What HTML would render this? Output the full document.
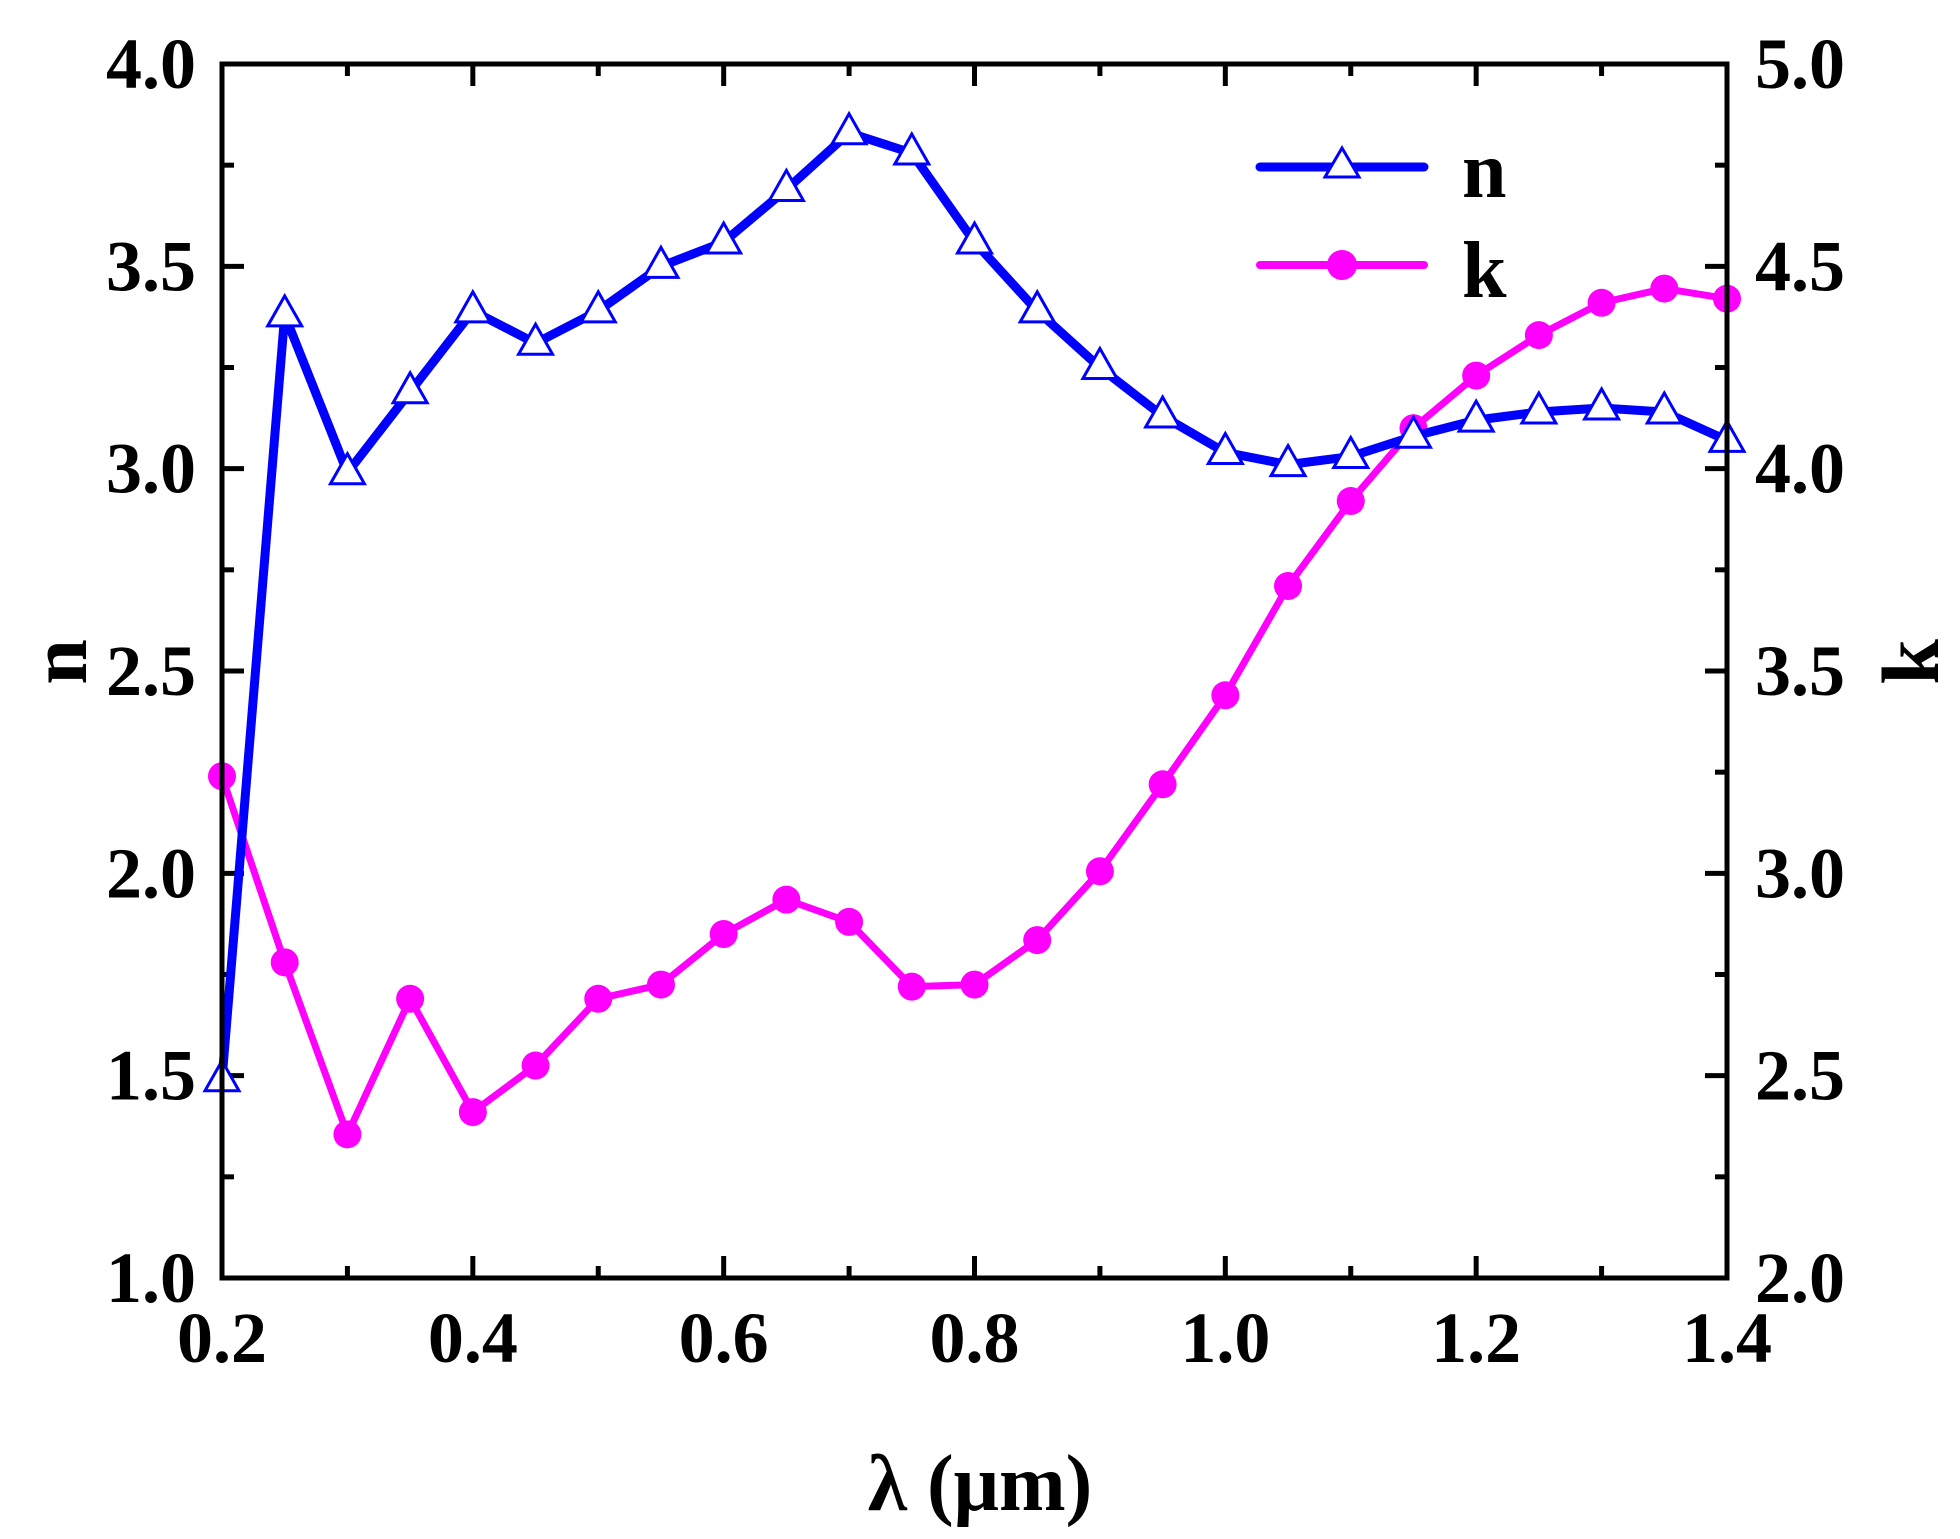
<!DOCTYPE html>
<html><head><meta charset="utf-8"><style>
html,body{margin:0;padding:0;background:#fff;}
svg{display:block;}
text{font-family:"Liberation Serif",serif;font-weight:bold;fill:#000;}
</style></head><body>
<svg id="chart" width="1960" height="1539" viewBox="0 0 1960 1539">
<g id="ticks"></g>
<g id="series"></g>
<rect x="222" y="64" width="1505" height="1214" fill="none" stroke="#000" stroke-width="5"/>
<text x="980" y="1510" font-size="80" text-anchor="middle">λ (μm)</text>
<text transform="translate(86,662) rotate(-90)" font-size="82" text-anchor="middle">n</text>
<text transform="translate(1938,662) rotate(-90)" font-size="82" text-anchor="middle">k</text>
<g>
<g>
<line x1="1260" y1="167" x2="1424" y2="167" stroke="#0000ff" stroke-width="9" stroke-linecap="round"/>
<polygon points="1342,148 1325,177 1359,177" fill="#fff" stroke="#0000ff" stroke-width="3"/>
<text x="1462" y="197" font-size="80">n</text>
</g>
<g>
<line x1="1260" y1="265" x2="1424" y2="265" stroke="#ff00ff" stroke-width="8" stroke-linecap="round"/>
<circle cx="1342" cy="265" r="15" fill="#ff00ff"/>
<text x="1462" y="297" font-size="80">k</text>
</g>
</g>
</svg>
<script>
const wavelengths=[0.2,0.25,0.3,0.35,0.4,0.45,0.5,0.55,0.6,0.65,0.7,0.75,0.8,0.85,0.9,0.95,1.0,1.05,1.1,1.15,1.2,1.25,1.3,1.35,1.4];
const nValues=[1.49,3.38,2.99,3.19,3.39,3.31,3.39,3.50,3.56,3.69,3.83,3.78,3.56,3.39,3.25,3.13,3.04,3.01,3.03,3.08,3.12,3.14,3.15,3.14,3.07];
const kValues=[3.24,2.78,2.355,2.69,2.41,2.525,2.69,2.725,2.85,2.935,2.88,2.72,2.725,2.835,3.005,3.22,3.44,3.71,3.92,4.10,4.23,4.33,4.41,4.445,4.42];
const xTicks=["0.2","0.4","0.6","0.8","1.0","1.2","1.4"];
const nTicks=["1.0","1.5","2.0","2.5","3.0","3.5","4.0"];
const kTicks=["2.0","2.5","3.0","3.5","4.0","4.5","5.0"];

const L=222,R=1727,T=64,B=1278;
const X=v=>L+(v-0.2)/1.2*(R-L);
const YN=v=>B-(v-1)/3*(B-T);
const YK=v=>B-(v-2)/3*(B-T);
const NS="http://www.w3.org/2000/svg";
function mk(tag,attrs,parent){const e=document.createElementNS(NS,tag);for(const k in attrs)e.setAttribute(k,attrs[k]);parent.appendChild(e);return e;}
const tg=document.getElementById('ticks');
const sg=document.getElementById('series');
for(let i=0;i<=12;i++){
  const v=0.2+i*0.1,x=X(v),len=i%2===0?22:12;
  const b=mk('line',{x1:x,y1:B,x2:x,y2:B-len,stroke:'#000','stroke-width':5},tg);
  
  
  const t=mk('line',{x1:x,y1:T,x2:x,y2:T+len,stroke:'#000','stroke-width':5},tg);
  
  
}
xTicks.forEach(s=>{
  const tx=mk('text',{x:X(parseFloat(s)),y:1362,'font-size':72,'text-anchor':'middle'},tg);
  tx.textContent=s;
  
  
});
for(let i=0;i<=12;i++){
  const v=1+i*0.25,y=YN(v),len=i%2===0?22:12;
  const a=mk('line',{x1:L,y1:y,x2:L+len,y2:y,stroke:'#000','stroke-width':5},tg);
  
  
  const c=mk('line',{x1:R,y1:y,x2:R-len,y2:y,stroke:'#000','stroke-width':5},tg);
  
  
}
nTicks.forEach(s=>{
  const tx=mk('text',{x:196,y:YN(parseFloat(s))+24,'font-size':72,'text-anchor':'end'},tg);
  tx.textContent=s;
  
  
});
kTicks.forEach(s=>{
  const tx=mk('text',{x:1755,y:YK(parseFloat(s))+24,'font-size':72,'text-anchor':'start'},tg);
  tx.textContent=s;
  
  
});
const kp=mk('polyline',{points:wavelengths.map((w,i)=>X(w)+','+YK(kValues[i])).join(' '),fill:'none',stroke:'#ff00ff','stroke-width':7,'stroke-linejoin':'round'},sg);


wavelengths.forEach((w,i)=>{
  const c=mk('circle',{cx:X(w),cy:YK(kValues[i]),r:14,fill:'#ff00ff'},sg);
  
  
});
const np=mk('polyline',{points:wavelengths.map((w,i)=>X(w)+','+YN(nValues[i])).join(' '),fill:'none',stroke:'#0000ff','stroke-width':9,'stroke-linejoin':'round'},sg);


wavelengths.forEach((w,i)=>{
  const x=X(w),y=YN(nValues[i]);
  const p=mk('polygon',{points:`${x},${y-19} ${x-17},${y+11} ${x+17},${y+11}`,fill:'#fff',stroke:'#0000ff','stroke-width':3},sg);
  
  
});
</script>
</body></html>
